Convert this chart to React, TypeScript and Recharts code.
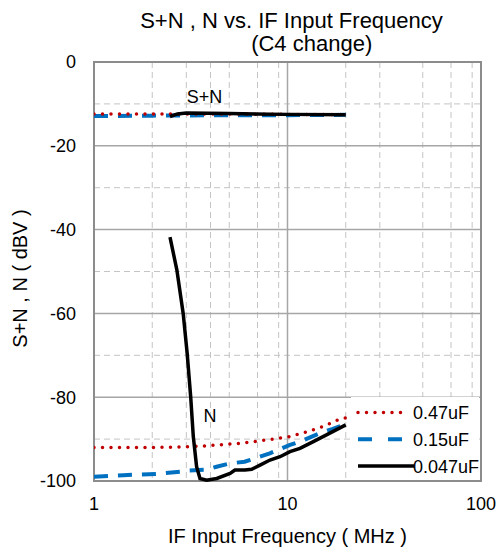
import {
  CartesianGrid,
  Legend,
  Line,
  LineChart,
  ReferenceArea,
  ReferenceDot,
  XAxis,
  YAxis,
} from 'recharts'

const FONT = '"Liberation Sans", Arial, sans-serif'

// C4 = 0.47uF (red dotted)
const sn470Freq = [1, 2, 5, 10, 20]
const sn470 = [-12.4, -12.4, -12.4, -12.5, -12.5]
const n470Freq = [1, 2, 2.8, 3.8, 5.7, 8.5, 10.3, 12.5, 15.3, 18.3, 20]
const n470 = [-92.0, -92.0, -91.9, -91.6, -91.0, -90.0, -89.4, -88.3, -87.0, -85.4, -84.9]

// C4 = 0.15uF (blue dashed)
const sn150Freq = [1, 2, 5, 10, 20]
const sn150 = [-12.9, -12.8, -12.7, -12.7, -12.6]
const n150Freq = [1, 1.42, 2.1, 2.78, 3.0, 3.8, 4.3, 5.05, 6.0, 7.2, 8.1, 10.3, 11.6, 14.7, 17, 20]
const n150 = [-99.0, -98.6, -98.3, -97.8, -97.5, -97.3, -96.6, -95.8, -95.4, -94.2, -93.4, -91.4, -90.6, -88.6, -87.6, -86.4]

// C4 = 0.047uF (black solid)
const sn47Freq = [2.47, 2.7, 3, 5, 10, 20]
const sn47 = [-13.0, -12.4, -12.2, -12.3, -12.5, -12.6]
const n47Freq = [2.47, 2.68, 2.89, 3.03, 3.16, 3.26, 3.39, 3.53, 3.82, 4.31, 5.05, 5.35, 6.03, 6.53, 7.21, 8.12, 9.15, 10.3, 11.6, 13.6, 15.9, 20]
const n47 = [-41.8, -49.6, -60.0, -69.5, -79.9, -89.4, -96.6, -99.4, -99.8, -99.4, -98.2, -97.4, -97.4, -97.2, -96.2, -95.0, -94.2, -93.0, -92.2, -90.6, -89.0, -86.6]

const xTicks = [1, 10, 100]
const yTicks = [0, -20, -40, -60, -80, -100]
const xMinor = [2, 3, 4, 5, 6, 7, 8, 9, 20, 30, 40, 50, 60, 70, 80, 90]
const xMajor = [10]
const yMinor = [-10, -30, -50, -70, -90]
const yMajor = [-20, -40, -60, -80]

const legendItems = [
  { name: '0.47uF', color: '#c00000', dash: '0 8.5', width: 3.5, cap: 'round' as const, len: 45 },
  { name: '0.15uF', color: '#0070c0', dash: '14 16', width: 4, cap: 'butt' as const, len: 45 },
  { name: '0.047uF', color: '#000000', dash: undefined, width: 3.5, cap: 'butt' as const, len: 56 },
]

const pts = (f: number[], v: number[]) => f.map((x, i) => ({ f: x, v: v[i] }))

function LegendBox() {
  return (
    <div style={{ background: '#fff', width: 128, height: 82 }}>
      <svg width={128} height={82}>
        {legendItems.map((it, i) => {
          const y = 15.5 + i * 26.8
          return (
            <g key={it.name}>
              <line
                x1={7}
                x2={7 + it.len}
                y1={y}
                y2={y}
                stroke={it.color}
                strokeWidth={it.width}
                strokeDasharray={it.dash}
                strokeLinecap={it.cap}
              />
              <text x={62} y={y + 6.5} fontSize={18} fontFamily={FONT} fill="#000">
                {it.name}
              </text>
            </g>
          )
        })}
      </svg>
    </div>
  )
}

export default function App() {
  const dotted = { stroke: '#c00000', strokeWidth: 3.5, strokeDasharray: '0 8.5', strokeLinecap: 'round' as const }
  const dashed = { stroke: '#0070c0', strokeWidth: 4, strokeDasharray: '14 10' }
  const solid = { stroke: '#000', strokeWidth: 3.5 }

  return (
    <div style={{ position: 'absolute', left: 0, top: 0 }}>
      <LineChart width={499} height={549} margin={{ top: 62, right: 18, left: 0, bottom: 0 }}>
        <CartesianGrid
          stroke="#c4c4c4"
          strokeDasharray="6 4"
          horizontalValues={yMinor}
          verticalValues={xMinor}
        />
        <CartesianGrid stroke="#a6a6a6" strokeWidth={1.5} horizontalValues={yMajor} verticalValues={xMajor} />
        <XAxis
          dataKey="f"
          type="number"
          scale="log"
          domain={[1, 100]}
          ticks={xTicks}
          allowDataOverflow
          height={68}
          axisLine={false}
          tickLine={false}
          tickMargin={10}
          tick={{ fontSize: 18, fill: '#000', fontFamily: FONT }}
          label={{
            value: 'IF Input Frequency ( MHz )',
            position: 'insideBottom',
            offset: 6,
            fontSize: 20,
            fill: '#000',
            fontFamily: FONT,
          }}
        />
        <YAxis
          type="number"
          domain={[-100, 0]}
          ticks={yTicks}
          width={94}
          axisLine={false}
          tickLine={false}
          tickMargin={12}
          tick={{ fontSize: 18, fill: '#000', fontFamily: FONT }}
        />
        <ReferenceArea x1={1} x2={100} y1={-100} y2={0} fill="none" stroke="#8c8c8c" strokeWidth={2} />

        <Line data={pts(sn150Freq, sn150)} dataKey="v" type="linear" dot={false} {...dashed} isAnimationActive={false} />
        <Line data={pts(n150Freq, n150)} dataKey="v" type="linear" dot={false} {...dashed} isAnimationActive={false} />
        <Line data={pts(sn470Freq, sn470)} dataKey="v" type="linear" dot={false} {...dotted} isAnimationActive={false} />
        <Line data={pts(n470Freq, n470)} dataKey="v" type="linear" dot={false} {...dotted} isAnimationActive={false} />
        <Line data={pts(sn47Freq, sn47)} dataKey="v" type="linear" dot={false} {...solid} isAnimationActive={false} />
        <Line data={pts(n47Freq, n47)} dataKey="v" type="linear" dot={false} {...solid} isAnimationActive={false} />

        <ReferenceDot
          x={3.72}
          y={-8.2}
          r={0}
          fill="none"
          stroke="none"
          label={{ value: 'S+N', position: 'center', fontSize: 18, fill: '#000', fontFamily: FONT }}
        />
        <ReferenceDot
          x={3.98}
          y={-84.5}
          r={0}
          fill="none"
          stroke="none"
          label={{ value: 'N', position: 'center', fontSize: 18, fill: '#000', fontFamily: FONT }}
        />

        <Legend
          layout="vertical"
          align="center"
          verticalAlign="middle"
          content={() => <LegendBox />}
          wrapperStyle={{ left: 351, top: 397, width: 128, height: 82 }}
        />

        <text x={291.5} y={28} textAnchor="middle" fontSize={22} fontFamily={FONT} fill="#000">
          S+N , N vs. IF Input Frequency
        </text>
        <text x={311.7} y={51} textAnchor="middle" fontSize={22} fontFamily={FONT} fill="#000">
          (C4 change)
        </text>
        <text
          x={27}
          y={278.5}
          transform="rotate(-90 27 278.5)"
          textAnchor="middle"
          fontSize={20}
          fontFamily={FONT}
          fill="#000"
        >
          S+N , N ( dBV )
        </text>
      </LineChart>
    </div>
  )
}
